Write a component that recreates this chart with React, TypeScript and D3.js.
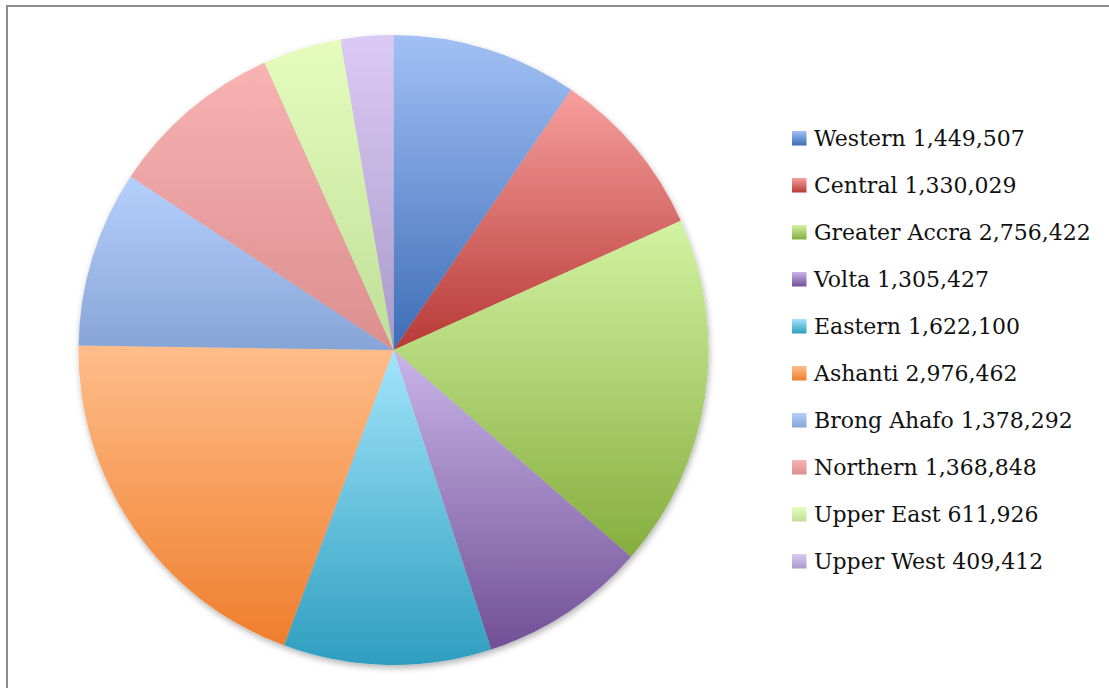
import React from "react";
import * as d3 from "d3";

const regions = ["Western", "Central", "Greater Accra", "Volta", "Eastern", "Ashanti", "Brong Ahafo", "Northern", "Upper East", "Upper West"];
const population = [1449507, 1330029, 2756422, 1305427, 1622100, 2976462, 1378292, 1368848, 611926, 409412];
const topColors = ["#a2c0f5", "#f6a09e", "#d2f3a2", "#c9b5e8", "#a2e5fc", "#ffbd8a", "#b6d0fd", "#f8b3b3", "#e5fcbd", "#dbcaf4"];
const bottomColors = ["#3d6db6", "#b73936", "#86ae3e", "#714f96", "#2e9ebf", "#ef7e2c", "#87a4d7", "#dc8e8e", "#bfdf98", "#aa9aca"];

const W = 1109;
const H = 688;
const cx = 393.5;
const cy = 350;
const R = 315;

export default function App() {
  const fmt = d3.format(",");
  const pie = d3.pie<number>().sort(null).value((d) => d);
  const arcs = pie(population);
  const arcGen = d3.arc<d3.PieArcDatum<number>>().innerRadius(0).outerRadius(R);
  const legendY = d3.scaleLinear().domain([0, regions.length - 1]).range([138, 561]);

  return (
    <svg width={W} height={H} style={{ position: "absolute", left: 0, top: 0, background: "#fff" }}>
      <defs>
        {regions.map((r, i) => (
          <linearGradient key={r} id={`g${i}`} x1="0" y1="0" x2="0" y2="1">
            <stop offset="0" stopColor={topColors[i]} />
            <stop offset="1" stopColor={bottomColors[i]} />
          </linearGradient>
        ))}
        <filter id="shadow" x="-10%" y="-10%" width="120%" height="120%">
          <feDropShadow dx="1" dy="3" stdDeviation="3" floodColor="#000" floodOpacity="0.3" />
        </filter>
      </defs>
      <rect x={7} y={6} width={W + 20} height={H + 20} fill="#fff" stroke="#8c8c8c" strokeWidth={2} />
      <g transform={`translate(${cx},${cy})`} filter="url(#shadow)">
        {arcs.map((a, i) => (
          <path key={regions[i]} d={arcGen(a) || ""} fill={`url(#g${i})`} />
        ))}
      </g>
      <g fontFamily="'DejaVu Serif', 'Liberation Serif', serif" fontSize={22} fill="#111">
        {regions.map((r, i) => (
          <g key={r} transform={`translate(792,${legendY(i)})`}>
            <rect x={0} y={-7} width={14.5} height={14.5} fill={`url(#g${i})`} />
            <text x={22} y={0} dy="0.36em">{`${r} ${fmt(population[i])}`}</text>
          </g>
        ))}
      </g>
    </svg>
  );
}
